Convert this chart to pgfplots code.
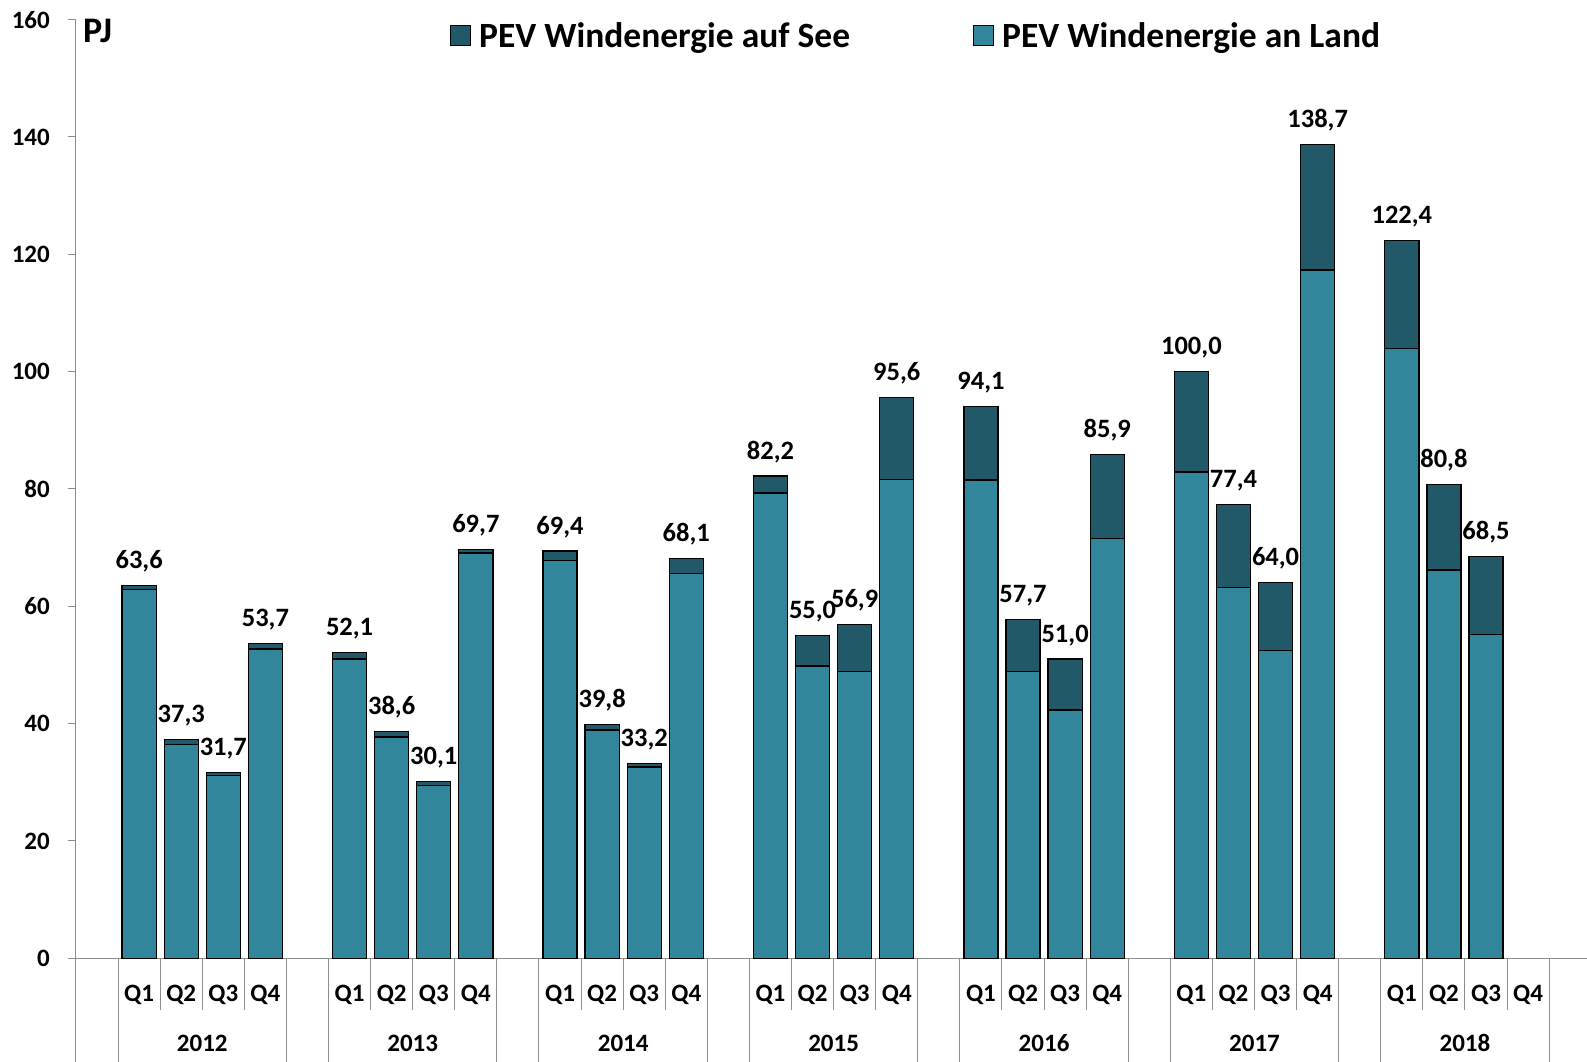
\documentclass[border=0pt]{standalone}
\usepackage{fontspec}
\setmainfont{Carlito}
\usepackage{pgfplots}
\pgfplotsset{compat=1.18}
\usepackage{pgfplotstable}
\definecolor{landc}{RGB}{49,134,155}
\definecolor{seac}{RGB}{34,89,104}
\definecolor{axgray}{RGB}{140,140,140}
\pgfplotsset{sqlegend/.style={legend image code/.code={\draw[##1] (0pt,-10pt) rectangle (20pt,10pt);}}}
\pgfplotstableread{
x land sea total
0 62.9 0.7 63.6
1 36.5 0.8 37.3
2 31.1 0.6 31.7
3 52.7 1.0 53.7
5 51.0 1.1 52.1
6 37.7 0.9 38.6
7 29.5 0.6 30.1
8 69.1 0.6 69.7
10 67.8 1.6 69.4
11 38.9 0.9 39.8
12 32.6 0.6 33.2
13 65.6 2.5 68.1
15 79.3 2.9 82.2
16 49.8 5.2 55.0
17 48.9 8.0 56.9
18 81.6 14.0 95.6
20 81.5 12.6 94.1
21 48.9 8.8 57.7
22 42.3 8.7 51.0
23 71.5 14.4 85.9
25 82.9 17.1 100.0
26 63.2 14.2 77.4
27 52.5 11.5 64.0
28 117.3 21.4 138.7
30 103.9 18.5 122.4
31 66.2 14.6 80.8
32 55.2 13.3 68.5
}\data
\begin{document}
\begin{tikzpicture}
\useasboundingbox (0,0) rectangle (1587pt,1061pt);
\begin{axis}[
  at={(76pt,102.7pt)}, anchor=south west,
  scale only axis, width=1511pt, height=938.7pt,
  xmin=-1.5, xmax=34.4, ymin=0, ymax=160,
  ybar stacked, bar width=0.81,
  clip=false,
  axis lines=left,
  axis line style={axgray, line width=1pt, -},
  ytick={0,20,...,160},
  tick align=outside, major tick length=8pt,
  ytick style={axgray, line width=1pt},
  xtick={0,1,2,3,5,6,7,8,10,11,12,13,15,16,17,18,20,21,22,23,25,26,27,28,30,31,32,33},
  xticklabels={Q1,Q2,Q3,Q4,Q1,Q2,Q3,Q4,Q1,Q2,Q3,Q4,Q1,Q2,Q3,Q4,Q1,Q2,Q3,Q4,Q1,Q2,Q3,Q4,Q1,Q2,Q3,Q4},
  xtick style={draw=none},
  /pgf/number format/assume math mode=true,
  yticklabel style={font=\fontsize{25}{30}\selectfont\bfseries, anchor=east, inner sep=0pt, xshift=-18pt},
  xticklabel style={font=\fontsize{25}{30}\selectfont\bfseries, anchor=base, inner sep=0pt, yshift=-35.4pt},
  legend columns=2,
  legend style={at={(axis description cs:0.2475,0.983)}, anchor=west, draw=none, fill=none,
    font=\fontsize{35.5}{42}\selectfont\bfseries, inner sep=0pt, nodes={inner sep=0pt},
    /tikz/every odd column/.append style={column sep=8pt},
    /tikz/every even column/.append style={column sep=123pt}},
]
\addlegendimage{sqlegend, fill=seac, draw=black, line width=1pt}
\addlegendentry{PEV Windenergie auf See}
\addlegendimage{sqlegend, fill=landc, draw=black, line width=1pt}
\addlegendentry{PEV Windenergie an Land}
\addplot[fill=landc, draw=black, line width=1.3pt] table[x=x, y=land]{\data};
\addplot[fill=seac, draw=black, line width=1.3pt] table[x=x, y=sea]{\data};
\pgfplotsinvokeforeach{-0.5,0.5,...,33.5}{\draw[axgray, line width=1pt] (axis cs:#1,0) -- ++(0pt,-51.7pt);}
\pgfplotsinvokeforeach{-1.5,-0.5,3.5,4.5,8.5,9.5,13.5,14.5,18.5,19.5,23.5,24.5,28.5,29.5,33.5}{\draw[axgray, line width=1pt] (axis cs:#1,0) -- ++(0pt,-105pt);}
\node[font=\fontsize{25}{30}\selectfont\bfseries, anchor=base, inner sep=0pt] at (axis cs:1.5,0) [yshift=-93.5pt] {2012};
\node[font=\fontsize{25}{30}\selectfont\bfseries, anchor=base, inner sep=0pt] at (axis cs:6.5,0) [yshift=-93.5pt] {2013};
\node[font=\fontsize{25}{30}\selectfont\bfseries, anchor=base, inner sep=0pt] at (axis cs:11.5,0) [yshift=-93.5pt] {2014};
\node[font=\fontsize{25}{30}\selectfont\bfseries, anchor=base, inner sep=0pt] at (axis cs:16.5,0) [yshift=-93.5pt] {2015};
\node[font=\fontsize{25}{30}\selectfont\bfseries, anchor=base, inner sep=0pt] at (axis cs:21.5,0) [yshift=-93.5pt] {2016};
\node[font=\fontsize{25}{30}\selectfont\bfseries, anchor=base, inner sep=0pt] at (axis cs:26.5,0) [yshift=-93.5pt] {2017};
\node[font=\fontsize{25}{30}\selectfont\bfseries, anchor=base, inner sep=0pt] at (axis cs:31.5,0) [yshift=-93.5pt] {2018};
\node[font=\fontsize{36}{42}\selectfont\bfseries, anchor=base west, inner sep=0pt] at (axis description cs:0,1) [xshift=7pt, yshift=-23pt] {PJ};
\end{axis}
\begin{axis}[
  at={(76pt,102.7pt)}, anchor=south west,
  scale only axis, width=1511pt, height=938.7pt,
  xmin=-1.5, xmax=34.4, ymin=0, ymax=160,
  hide axis, clip=false,
  /pgf/number format/assume math mode=true,
]
\addplot[only marks, mark=none, point meta=explicit,
  nodes near coords={\pgfmathprintnumber[fixed,fixed zerofill,precision=1,use comma,assume math mode=true]{\pgfplotspointmeta}},
  nodes near coords style={font=\fontsize{26.5}{32}\selectfont\bfseries, anchor=base, inner sep=0pt, yshift=17pt, text=black}]
  table[x=x, y=total, meta=total]{\data};
\end{axis}
\end{tikzpicture}
\end{document}
